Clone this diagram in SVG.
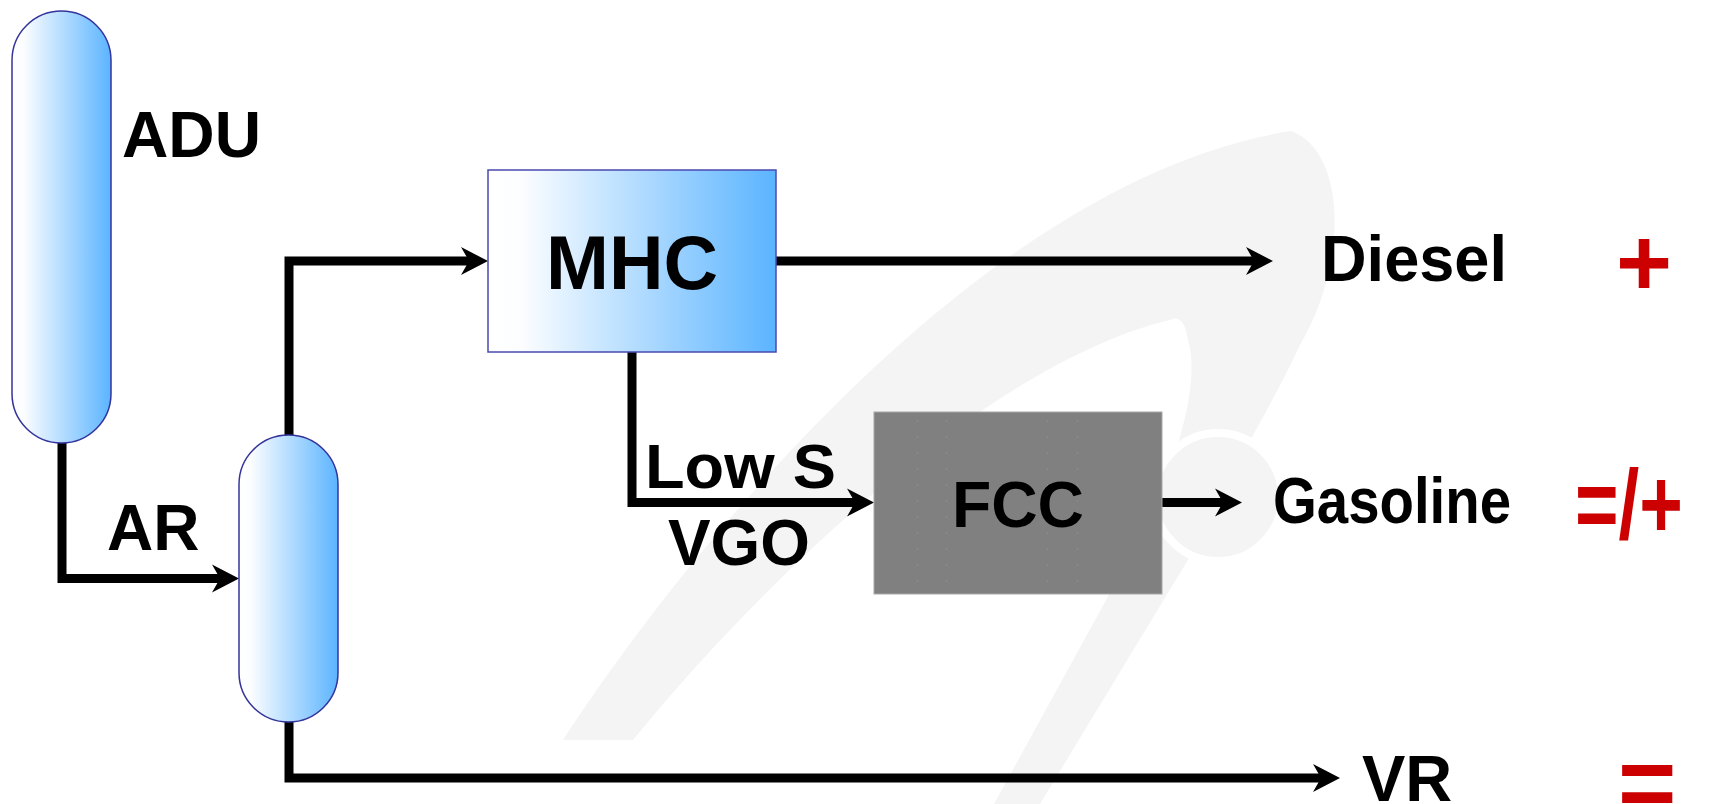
<svg xmlns="http://www.w3.org/2000/svg" width="1713" height="804" viewBox="0 0 1713 804">
  <defs>
    <linearGradient id="blueGrad" x1="0" y1="0" x2="1" y2="0">
      <stop offset="0" stop-color="#ffffff"/>
      <stop offset="0.12" stop-color="#fbfdff"/>
      <stop offset="1" stop-color="#5bb4ff"/>
    </linearGradient>
    <marker id="arrow" markerUnits="userSpaceOnUse" markerWidth="28" markerHeight="30" viewBox="0 0 28 28" refX="10" refY="14" orient="auto">
      <path d="M0,0 L27,14 L0,28 L8,14 Z" fill="#000"/>
    </marker>
    <style>
      .vessel { fill: url(#blueGrad); stroke: #34349c; stroke-width: 1.5; }
      .box { fill: url(#blueGrad); stroke: #4a4ab0; stroke-width: 1.5; }
      .fcc { fill: #808080; stroke: #a8a8a8; stroke-width: 1; }
      .flow { fill: none; stroke: #000; stroke-width: 9; stroke-linejoin: miter; marker-end: url(#arrow); }
      .lbl { font-family: "Liberation Sans", Arial, sans-serif; font-weight: bold; fill: #000; }
      .sign { font-family: "Liberation Sans", Arial, sans-serif; font-weight: bold; fill: #cc0000; }
      .wm { fill: #f4f4f4; }
    </style>
  </defs>

  <rect width="1713" height="804" fill="#ffffff"/>

  <g id="watermark">
    <path class="wm" d="M563,740 C680,560 980,180 1291,131 C1345,150 1350,260 1300,345 C1270,410 1230,470 1200,540 L1040,804 L994,804 L1150,520 C1180,450 1200,380 1188,340 C1185,320 1178,316 1170,320 C1000,360 780,560 633,740 Z"/>
    <circle cx="1218" cy="497" r="64" fill="#f4f4f4" stroke="#ffffff" stroke-width="8"/>
  </g>

  <g id="connectors">
    <path class="flow" d="M62,443 V578.5 H222"/>
    <path class="flow" d="M289,436 V261 H471"/>
    <path class="flow" d="M289,721 V778 H1323"/>
    <path class="flow" d="M776,261 H1256"/>
    <path class="flow" d="M632,352 V502.5 H857"/>
    <path class="flow" d="M1162,502.5 H1225"/>
  </g>

  <g id="ADU">
    <rect class="vessel" x="12" y="11" width="99" height="432" rx="49.5" ry="49.5"/>
    <text class="lbl" x="122" y="157" font-size="64" textLength="139" lengthAdjust="spacingAndGlyphs">ADU</text>
  </g>

  <g id="AR-label">
    <text class="lbl" x="107" y="550" font-size="64">AR</text>
  </g>

  <g id="VDU">
    <rect class="vessel" x="239" y="435" width="99" height="287" rx="49.5" ry="49.5"/>
  </g>

  <g id="MHC">
    <rect class="box" x="488" y="170" width="288" height="182"/>
    <text class="lbl" x="546" y="289" font-size="76" textLength="172" lengthAdjust="spacingAndGlyphs">MHC</text>
  </g>

  <g id="LowS-VGO-label">
    <text class="lbl" x="645" y="488" font-size="63" textLength="191" lengthAdjust="spacingAndGlyphs">Low S</text>
    <text class="lbl" x="668" y="565" font-size="64" textLength="142" lengthAdjust="spacingAndGlyphs">VGO</text>
  </g>

  <g id="FCC">
    <rect class="fcc" x="874" y="412" width="288" height="182"/>
    <g stroke="#8c8c8c" stroke-width="1" stroke-dasharray="2,14">
      <line x1="917.5" y1="420" x2="917.5" y2="590"/>
      <line x1="946.5" y1="420" x2="946.5" y2="590"/>
      <line x1="1047.5" y1="420" x2="1047.5" y2="590"/>
      <line x1="1077.5" y1="420" x2="1077.5" y2="590"/>
    </g>
    <text class="lbl" x="952" y="527" font-size="65" textLength="132" lengthAdjust="spacingAndGlyphs">FCC</text>
  </g>

  <g id="Diesel">
    <text class="lbl" x="1321" y="281" font-size="64" textLength="186" lengthAdjust="spacingAndGlyphs">Diesel</text>
    <text class="sign" x="1616" y="296" font-size="96">+</text>
  </g>

  <g id="Gasoline">
    <text class="lbl" x="1273" y="523" font-size="64" textLength="238" lengthAdjust="spacingAndGlyphs">Gasoline</text>
    <text class="sign" x="1575" y="538" font-size="98" textLength="108" lengthAdjust="spacingAndGlyphs">=/+</text>
  </g>

  <g id="VR">
    <text class="lbl" x="1362" y="801" font-size="65">VR</text>
    <text class="sign" x="1618" y="817" font-size="100">=</text>
  </g>
</svg>
